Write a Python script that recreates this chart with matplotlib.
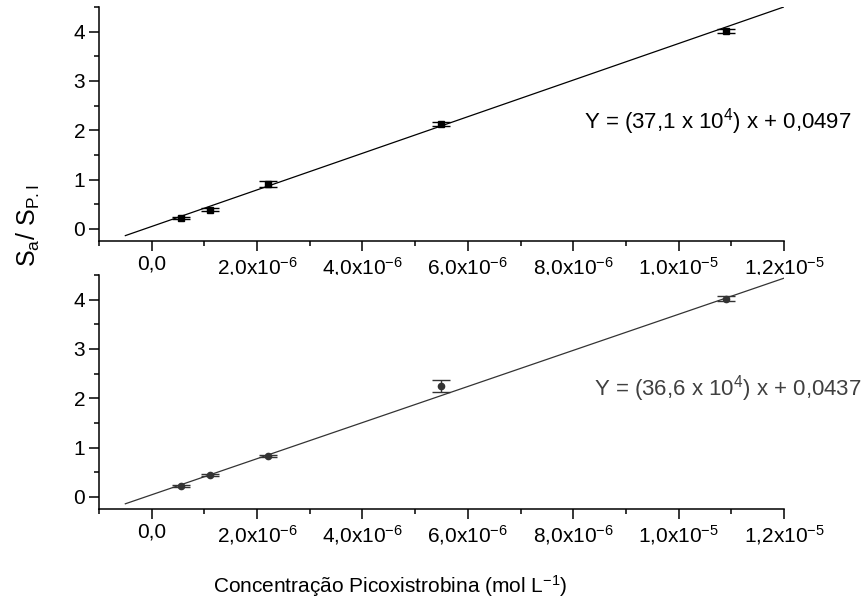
import matplotlib
matplotlib.use("Agg")
import matplotlib.pyplot as plt
import numpy as np
from matplotlib.ticker import MultipleLocator, FixedLocator

plt.rcParams['font.family'] = ['Liberation Sans', 'DejaVu Sans']
plt.rcParams['mathtext.fontset'] = 'custom'
plt.rcParams['mathtext.rm'] = 'Liberation Sans'
plt.rcParams['mathtext.it'] = 'Liberation Sans:italic'
plt.rcParams['mathtext.bf'] = 'Liberation Sans:bold'

# ---- data ----
conc = [0.55e-6, 1.1e-6, 2.2e-6, 5.5e-6, 1.09e-5]
top_y = [0.22, 0.39, 0.91, 2.13, 4.01]
top_err = [0.02, 0.03, 0.06, 0.04, 0.04]
bot_y = [0.23, 0.45, 0.83, 2.25, 4.02]
bot_err = [0.02, 0.02, 0.02, 0.12, 0.05]
top_slope, top_intercept = 37.1e4, 0.0497
bot_slope, bot_intercept = 36.6e4, 0.0437
fit_range = [-0.5e-6, 1.2e-5]
xtick_vals = [0.0, 2e-6, 4e-6, 6e-6, 8e-6, 1e-5, 1.2e-5]
xtick_labels = ['0,0', r'2,0x10$^{\mathdefault{-6}}$', r'4,0x10$^{\mathdefault{-6}}$',
                r'6,0x10$^{\mathdefault{-6}}$', r'8,0x10$^{\mathdefault{-6}}$',
                r'1,0x10$^{\mathdefault{-5}}$', r'1,2x10$^{\mathdefault{-5}}$']
ytick_vals = [0, 1, 2, 3, 4]
ytick_labels = ['0', '1', '2', '3', '4']
top_eq = r'Y = (37,1 x 10$^{\mathdefault{4}}$) x + 0,0497'
bot_eq = r'Y = (36,6 x 10$^{\mathdefault{4}}$) x + 0,0437'
ylabel = r'S$_{\mathdefault{a}}$/ S$_{\mathdefault{P.I}}$'
xlabel = r'Concentração Picoxistrobina (mol L$^{\mathdefault{-1}}$)'

fig = plt.figure(figsize=(8.66, 6.06), dpi=100)
ax1 = fig.add_axes([99/866, 1-241/606, 685/866, 234/606])
ax2 = fig.add_axes([99/866, 1-509/606, 685/866, 234/606])

def style(ax):
    ax.set_xlim(-1e-6, 1.2e-5)
    ax.set_ylim(-0.245, 4.5)
    for s in ['top', 'right']:
        ax.spines[s].set_visible(False)
    for s in ['left', 'bottom']:
        ax.spines[s].set_linewidth(1.1)
    ax.xaxis.set_major_locator(FixedLocator(xtick_vals))
    ax.set_xticklabels(xtick_labels, fontsize=15)
    ax.xaxis.set_minor_locator(MultipleLocator(1e-6))
    ax.yaxis.set_major_locator(FixedLocator(ytick_vals))
    ax.set_yticklabels(ytick_labels, fontsize=15)
    ax.yaxis.set_minor_locator(MultipleLocator(0.5))
    ax.tick_params(which='major', direction='out', length=7, width=1.1, pad=3)
    ax.tick_params(which='minor', direction='out', length=3.5, width=1.1)

for ax in (ax1, ax2):
    style(ax)

fx = np.array(fit_range)
ax1.plot(fx, top_slope*fx + top_intercept, color='black', lw=0.9)
ax1.errorbar(conc, top_y, yerr=top_err, fmt='s', color='black', ms=4.5,
             capsize=6.5, elinewidth=1.0, capthick=1.0)
ax1.text(1.099, 0.479, top_eq, transform=ax1.transAxes, ha='right',
         va='baseline', fontsize=16, color='black')

ax2.plot(fx, bot_slope*fx + bot_intercept, color='#333333', lw=0.9)
ax2.errorbar(conc, bot_y, yerr=bot_err, fmt='o', color='#333333', ms=4.5,
             capsize=6.5, elinewidth=1.0, capthick=1.0)
ax2.text(1.114, 0.483, bot_eq, transform=ax2.transAxes, ha='right',
         va='baseline', fontsize=16, color='#404040')

fig.text(28/866, 1-226/606, ylabel, rotation=90, ha='center', va='center',
         fontsize=18)
fig.text(390/866, 1-593/606, xlabel, ha='center', va='baseline',
         fontsize=15)

fig.savefig('out.png', dpi=100)
